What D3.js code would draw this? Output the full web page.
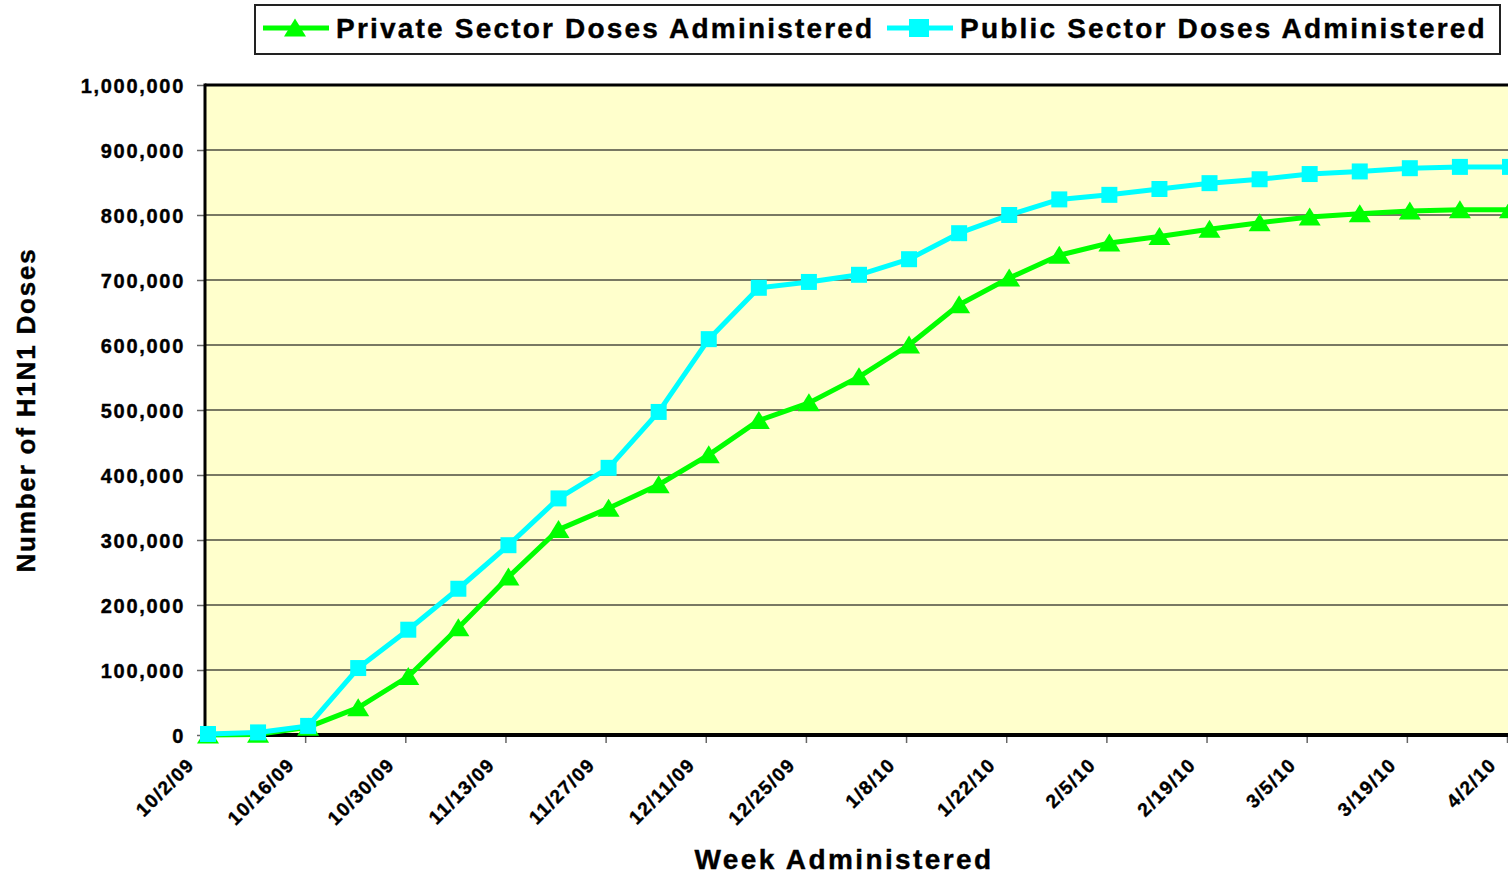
<!DOCTYPE html>
<html>
<head>
<meta charset="utf-8">
<script src="https://cdn.jsdelivr.net/npm/d3@7"></script>
<style>
  body { margin: 0; background: #fff; overflow: hidden; }
  text { font-family: "Liberation Sans", Arial, sans-serif; font-weight: bold; fill: #000; stroke: #000; stroke-width: 0.4px; }
</style>
</head>
<body>
<div id="chart"></div>
<script>
// ************ data ************
const weeks = ["10/2/09", "10/9/09", "10/16/09", "10/23/09", "10/30/09", "11/6/09", "11/13/09",
  "11/20/09", "11/27/09", "12/4/09", "12/11/09", "12/18/09", "12/25/09", "1/1/10", "1/8/10",
  "1/15/10", "1/22/10", "1/29/10", "2/5/10", "2/12/10", "2/19/10", "2/26/10", "3/5/10",
  "3/12/10", "3/19/10", "3/26/10", "4/2/10"]

const privateDoses = [0, 1000, 12000, 42000, 90000, 165000, 243000, 316000, 349000, 385000,
  431000, 484000, 511000, 551000, 600000, 662000, 703000, 738000, 757000, 767000, 778000,
  788000, 797000, 802000, 806000, 808000, 808000]

const publicDoses = [1500, 4000, 14000, 103000, 162000, 225000, 292000, 364000, 411000, 497000,
  609000, 688000, 697000, 708000, 732000, 772000, 800000, 824000, 831000, 840000, 849000,
  855000, 863000, 867000, 872000, 874000, 874000]

const xTickLabels = ["10/2/09", "10/16/09", "10/30/09", "11/13/09", "11/27/09", "12/11/09",
  "12/25/09", "1/8/10", "1/22/10", "2/5/10", "2/19/10", "3/5/10", "3/19/10", "4/2/10"]

const yTicks = [0, 100000, 200000, 300000, 400000, 500000, 600000, 700000, 800000, 900000, 1000000]

const seriesNames = ["Private Sector Doses Administered", "Public Sector Doses Administered"]

// ************ layout ************
const margin = { top: 85, right: 0, bottom: 139, left: 205 }
const width = 1508 - margin.left - margin.right
const height = 874 - margin.top - margin.bottom

const green = "#00ff00"
const cyan = "#00ffff"

const parseDate = d3.timeParse("%m/%d/%y")

const x = d3.scaleTime()
  .domain([parseDate(xTickLabels[0]), parseDate(xTickLabels[xTickLabels.length - 1])])
  .range([0, width - 1])

const y = d3.scaleLinear()
  .domain([0, 1000000])
  .range([height, 0])

// points sit a little right of the date tick (excel date axis)
const px = (i) => x(d3.timeHour.offset(parseDate(weeks[i]), 10))

const svg = d3.select("#chart")
  .append("svg")
  .attr("width", 1508)
  .attr("height", 874)

const g = svg.append("g")
  .attr("transform", "translate(" + margin.left + "," + margin.top + ")")

// plot background
g.append("rect")
  .attr("width", width)
  .attr("height", height)
  .attr("fill", "#ffffcc")

// gridlines
g.selectAll(".grid")
  .data(yTicks)
  .enter()
  .append("line")
  .attr("class", "grid")
  .attr("x1", 0)
  .attr("x2", width)
  .attr("y1", (d) => y(d))
  .attr("y2", (d) => y(d))
  .attr("stroke", "#4d4d40")
  .attr("stroke-width", 1.5)

// Y-axis
const yAxis = g.append("g")
  .call(d3.axisLeft(y).tickValues(yTicks).tickFormat(d3.format(",")).tickSize(8).tickPadding(12))
yAxis.select(".domain").remove()
yAxis.selectAll(".tick line").attr("stroke", "#666").attr("stroke-width", 1.5)
yAxis.selectAll(".tick text")
  .style("font-size", "20px")
  .style("letter-spacing", "1.7px")
  .attr("dy", "0.36em")

// X-axis
const xAxis = g.append("g")
  .attr("transform", "translate(0," + height + ")")
  .call(d3.axisBottom(x).tickValues(xTickLabels.map(parseDate)).tickSize(8)
    .tickFormat((d, i) => xTickLabels[i]))
xAxis.select(".domain").remove()
xAxis.selectAll(".tick line").attr("stroke", "#666").attr("stroke-width", 1.5)
xAxis.selectAll(".tick text")
  .attr("x", 0)
  .attr("y", 0)
  .attr("dy", 0)
  .attr("text-anchor", "end")
  .attr("transform", "translate(-10,31) rotate(-45)")
  .style("font-size", "19px")
  .style("letter-spacing", "1.4px")

// plot borders
g.append("line").attr("x1", 0).attr("x2", width).attr("y1", 0).attr("y2", 0)
  .attr("stroke", "#000").attr("stroke-width", 3)
g.append("line").attr("x1", 0).attr("x2", 0).attr("y1", -1.5).attr("y2", height + 2)
  .attr("stroke", "#000").attr("stroke-width", 3)
g.append("line").attr("x1", 0).attr("x2", width).attr("y1", height).attr("y2", height)
  .attr("stroke", "#000").attr("stroke-width", 4)

// markers
const triangle = "M0,-9.5L11,8.5L-11,8.5Z"
const square = "M-8,-8H8V8H-8Z"

const line = d3.line()
  .x((d, i) => px(i))
  .y((d) => y(d))

// private series
g.append("path")
  .datum(privateDoses)
  .attr("d", line)
  .attr("fill", "none")
  .attr("stroke", green)
  .attr("stroke-width", 5)
  .attr("stroke-linejoin", "round")

g.selectAll(".tri")
  .data(privateDoses)
  .enter()
  .append("path")
  .attr("class", "tri")
  .attr("d", triangle)
  .attr("transform", (d, i) => "translate(" + px(i) + "," + y(d) + ")")
  .attr("fill", green)

// public series
g.append("path")
  .datum(publicDoses)
  .attr("d", line)
  .attr("fill", "none")
  .attr("stroke", cyan)
  .attr("stroke-width", 5)
  .attr("stroke-linejoin", "round")

g.selectAll(".sq")
  .data(publicDoses)
  .enter()
  .append("path")
  .attr("class", "sq")
  .attr("d", square)
  .attr("transform", (d, i) => "translate(" + px(i) + "," + y(d) + ")")
  .attr("fill", cyan)

// axis titles
svg.append("text")
  .attr("x", 844)
  .attr("y", 869)
  .attr("text-anchor", "middle")
  .style("font-size", "28px")
  .style("letter-spacing", "2.4px")
  .text("Week Administered")

svg.append("text")
  .attr("transform", "translate(35,410) rotate(-90)")
  .attr("text-anchor", "middle")
  .style("font-size", "26px")
  .style("letter-spacing", "1.8px")
  .text("Number of H1N1 Doses")

// legend
const legend = svg.append("g")

legend.append("rect")
  .attr("x", 255)
  .attr("y", 5)
  .attr("width", 1245)
  .attr("height", 49)
  .attr("fill", "#fff")
  .attr("stroke", "#222")
  .attr("stroke-width", 2)

const legendItems = [
  { name: seriesNames[0], color: green, marker: triangle, x0: 263 },
  { name: seriesNames[1], color: cyan, marker: "M-10,-9H10V9H-10Z", x0: 887 }
]

const item = legend.selectAll(".legend")
  .data(legendItems)
  .enter()
  .append("g")
  .attr("class", "legend")
  .attr("transform", (d) => "translate(" + d.x0 + ",0)")

item.append("line")
  .attr("x1", 0)
  .attr("x2", 66)
  .attr("y1", 28)
  .attr("y2", 28)
  .attr("stroke", (d) => d.color)
  .attr("stroke-width", 5)

item.append("path")
  .attr("d", (d) => d.marker)
  .attr("transform", "translate(32,28)")
  .attr("fill", (d) => d.color)

item.append("text")
  .attr("x", 73)
  .attr("y", 38)
  .style("font-size", "28px")
  .style("letter-spacing", "2.2px")
  .text((d) => d.name)
</script>
</body>
</html>
